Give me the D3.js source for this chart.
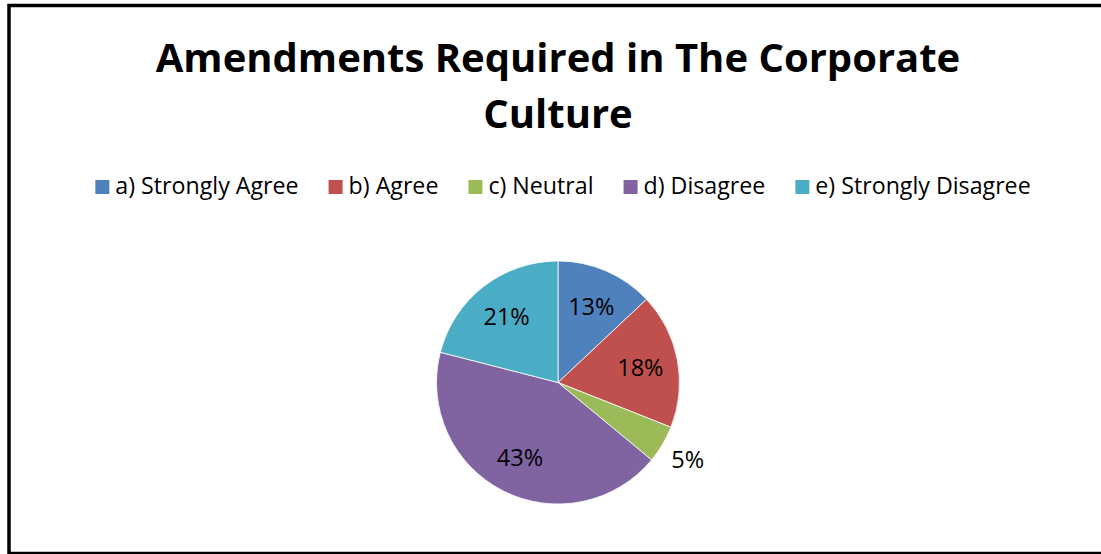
<!DOCTYPE html>
<html>
<head>
<meta charset="utf-8">
<script src="https://cdn.jsdelivr.net/npm/d3@7/dist/d3.min.js"></script>
<style>
  html, body { margin: 0; padding: 0; background: #fff; }
  svg { display: block; }
  text { font-family: "Open Sans", Lato, "DejaVu Sans", sans-serif; fill: #000; }
</style>
</head>
<body>
<svg id="chart" width="1101" height="554"></svg>
<script>
// Survey responses: amendments required in the corporate culture
const categories = ["a) Strongly Agree", "b) Agree", "c) Neutral", "d) Disagree", "e) Strongly Disagree"];
const shares = [13, 18, 5, 43, 21];
const palette = ["#4F81BD", "#C0504D", "#9BBB59", "#8064A2", "#4BACC6"];
const titleLines = ["Amendments Required in The Corporate", "Culture"];

const svg = d3.select("#chart");
const cx = 558;

// outer frame
svg.append("rect")
  .attr("x", 9).attr("y", 5.5)
  .attr("width", 1100).attr("height", 548)
  .attr("fill", "#fff")
  .attr("stroke", "#000")
  .attr("stroke-width", 3.5);

// title
const title = svg.append("text")
  .attr("text-anchor", "middle")
  .attr("font-weight", "bold")
  .attr("font-size", 40);
title.selectAll("tspan").data(titleLines).join("tspan")
  .attr("x", cx)
  .attr("y", (d, i) => 72 + i * 56)
  .text(d => d);

// legend: measure labels, then lay the entries out centred on one row
const legendFont = 23.2, swatch = 14, gapAfterSwatch = 6, itemGap = 30;
const legend = svg.append("g");
const items = legend.selectAll("g").data(categories).join("g");
items.append("rect")
  .attr("width", swatch).attr("height", swatch)
  .attr("y", -swatch)
  .attr("fill", (d, i) => palette[i]);
items.append("text")
  .attr("x", swatch + gapAfterSwatch)
  .attr("font-size", legendFont)
  .text(d => d);
const widths = [];
items.each(function () { widths.push(this.getBBox().width); });
const total = d3.sum(widths) + itemGap * (widths.length - 1);
let xPos = 563 - total / 2;
items.attr("transform", (d, i) => {
  const x = xPos;
  xPos += widths[i] + itemGap;
  return `translate(${x},194)`;
});

// pie
const R = 121.5;
const cy = 382.5;
const pie = d3.pie().sort(null).value(d => d)(shares);
const arc = d3.arc().innerRadius(0).outerRadius(R);
const labelArc = d3.arc().innerRadius(R * 0.69).outerRadius(R * 0.69);
const outerArc = d3.arc().innerRadius(R * 1.24).outerRadius(R * 1.24);

const g = svg.append("g").attr("transform", `translate(${cx},${cy})`);
g.selectAll("path").data(pie).join("path")
  .attr("d", arc)
  .attr("fill", (d, i) => palette[i])
  .attr("stroke", "#fff")
  .attr("stroke-width", 0.8);

// slices too narrow for their label get it placed just outside the rim
const fits = d => (d.endAngle - d.startAngle) > 0.45;
g.selectAll("text.val").data(pie).join("text")
  .attr("class", "val")
  .attr("text-anchor", "middle")
  .attr("dominant-baseline", "central")
  .attr("font-size", 23.5)
  .attr("transform", d => `translate(${(fits(d) ? labelArc : outerArc).centroid(d)})`)
  .text(d => d.data + "%");
</script>
</body>
</html>
